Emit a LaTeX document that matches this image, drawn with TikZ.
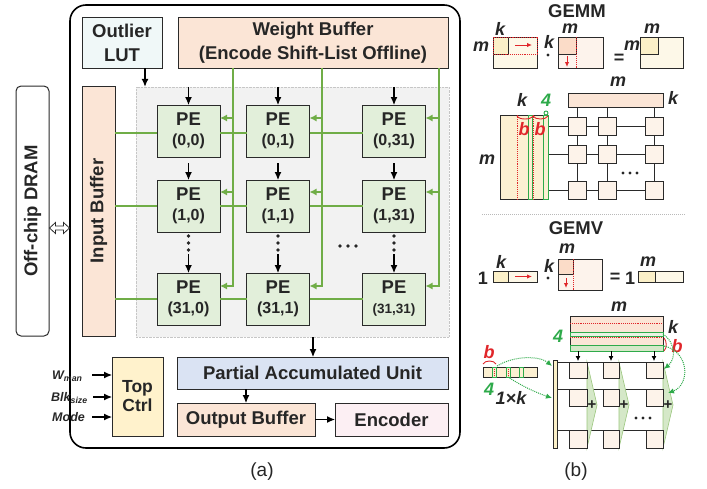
\documentclass[tikz,border=0pt]{standalone}
\usepackage{fontspec}
\setmainfont{Liberation Sans}
\usetikzlibrary{arrows.meta,calc}
\definecolor{txt}{HTML}{262626}
\definecolor{bd}{HTML}{2A2A2A}
\definecolor{peach}{HTML}{FBE5D6}
\definecolor{pegreen}{HTML}{E2EFDA}
\definecolor{gline}{HTML}{70AD47}
\definecolor{lut}{HTML}{F0F8F8}
\definecolor{pau}{HTML}{DAE3F3}
\definecolor{enc}{HTML}{FCEFF3}
\definecolor{ctrl}{HTML}{FFF2CC}
\definecolor{area}{HTML}{F2F2F2}
\definecolor{cream}{HTML}{FDF8E8}
\definecolor{yel}{HTML}{FBF0C8}
\definecolor{yel2}{HTML}{FCF0D2}
\definecolor{lpeach}{HTML}{FDF3EC}
\definecolor{dpeach}{HTML}{FBDCC8}
\definecolor{sqf}{HTML}{FDF3EA}
\definecolor{rd}{HTML}{E0262A}
\definecolor{brightg}{HTML}{2EAA4A}
\definecolor{lgreen}{HTML}{D5E8C8}
\newcommand{\myfs}[2]{\fontsize{#1}{#2}\selectfont}
\begin{document}
\begin{tikzpicture}[x=1pt,y=-1pt,
  box/.style={draw=bd, line width=1pt, inner sep=0pt, outer sep=0pt, text=txt, align=center, font=\bfseries\myfs{18.5}{24}},
  pe/.style={box, fill=pegreen, minimum width=63pt, minimum height=52pt, font=\bfseries\myfs{18.5}{20}},
  arr/.style={draw=black, line width=1.1pt, -{Latex[length=8pt,width=7pt]}},
  sarr/.style={draw=black, line width=0.8pt, -{Latex[length=5pt,width=5pt]}},
  garr/.style={draw=gline, line width=1.2pt, -{Latex[length=7pt,width=7pt]}},
  gln/.style={draw=gline, line width=1.2pt},
  lab/.style={text=txt, inner sep=0pt, font=\bfseries\itshape\myfs{18}{20}},
  inlab/.style={anchor=west, text=txt, inner sep=0pt, font=\bfseries\itshape\myfs{12.5}{14}},
  mat/.style={draw=bd, line width=0.9pt},
  reddot/.style={draw=rd, densely dotted, line width=0.9pt},
  redarr/.style={draw=rd, line width=1pt, -{Latex[length=5pt,width=4.5pt]}},
  gbox/.style={draw=brightg, line width=0.9pt},
  gdot/.style={draw=brightg, densely dotted, line width=1pt, -{Latex[length=6pt,width=5.5pt]}},
  pdot/.style={fill=txt, circle, inner sep=0pt, minimum size=3.6pt},
  sdot/.style={fill=txt, circle, inner sep=0pt, minimum size=3.2pt},
]
\useasboundingbox (0,0) rectangle (707,488);

% ===================== (a) =====================
\node[draw=black, line width=1.6pt, rounded corners=16pt, minimum width=390pt, minimum height=443pt, inner sep=0pt] (outer) at (265,226.5) {};
\node[box, fill=white, rounded corners=5pt, rotate=90, minimum width=250pt, minimum height=33pt, font=\bfseries\myfs{18.5}{20}] (dram) at (32.5,211) {Off-chip DRAM};
\coordinate (dd) at (49.5,228);
\draw[fill=white, draw=bd, line width=0.8pt] (dd) -- ++(6,-5.5) -- ++(0,3.5) -- ++(8,0) -- ++(0,-3.5) -- ++(6,5.5) -- ++(-6,5.5) -- ++(0,-3.5) -- ++(-8,0) -- ++(0,3.5) -- cycle;

\node[draw=gray!45, densely dotted, fill=area, minimum width=313pt, minimum height=250pt, inner sep=0pt] (area) at (292.5,212) {};

\node[box, fill=lut, minimum width=80pt, minimum height=51pt] (lut) at (122,42.5) {Outlier\\LUT};
\node[box, fill=peach, minimum width=270pt, minimum height=51pt] (wb) at (313,42.5) {Weight Buffer\\(Encode Shift-List Offline)};
\node[box, fill=peach, rotate=90, minimum width=250pt, minimum height=33pt, font=\bfseries\myfs{18.5}{20}] (ib) at (98.5,211) {Input Buffer};

% PEs
\node[pe] (pe00) at (188.5,131) {PE\\{\myfs{16}{18}(0,0)}};
\node[pe] (pe01) at (278,131) {PE\\{\myfs{16}{18}(0,1)}};
\node[pe] (pe02) at (394,131) {PE\\{\myfs{16}{18}(0,31)}};
\node[pe] (pe10) at (188.5,206) {PE\\{\myfs{16}{18}(1,0)}};
\node[pe] (pe11) at (278,206) {PE\\{\myfs{16}{18}(1,1)}};
\node[pe] (pe12) at (394,206) {PE\\{\myfs{16}{18}(1,31)}};
\node[pe] (pe20) at (188.5,299) {PE\\{\myfs{16}{18}(31,0)}};
\node[pe] (pe21) at (278,299) {PE\\{\myfs{16}{18}(31,1)}};
\node[pe] (pe22) at (394,299) {PE\\{\myfs{13.5}{16}(31,31)}};

% horizontal green lines from input buffer
\foreach \n/\yy in {0/133,1/206,2/299}{
  \coordinate (h\n) at (0,\yy);
  \draw[gln] (ib.south |- h\n) -- (pe\n0.west |- h\n);
  \draw[gln] (pe\n0.east |- h\n) -- (pe\n1.west |- h\n);
  \draw[gln] (pe\n1.east |- h\n) -- (pe\n2.west |- h\n);
}
% vertical green lines from weight buffer
\coordinate (r0) at (0,118);
\coordinate (r1) at (0,192);
\coordinate (r2) at (0,286);
\foreach \c/\gx in {0/233,1/322,2/439}{
  \coordinate (g\c) at (\gx,0);
  \draw[garr] (wb.south -| g\c) -- (g\c |- r2) -- (r2 -| pe2\c.east);
  \draw[garr] (g\c |- r0) -- (r0 -| pe0\c.east);
  \draw[garr] (g\c |- r1) -- (r1 -| pe1\c.east);
}
% black arrows in columns
\foreach \c in {0,1,2}{
  \draw[arr] (area.north -| pe0\c) -- (pe0\c.north);
  \draw[arr] ($(pe0\c.south)+(0,6)$) -- (pe1\c.north);
  \node[pdot] at ($(pe1\c.south)+(0,4)$) {};
  \node[pdot] at ($(pe1\c.south)+(0,11)$) {};
  \node[pdot] at ($(pe1\c.south)+(0,18)$) {};
  \draw[arr] ($(pe1\c.south)+(0,22)$) -- (pe2\c.north);
}
\node[pdot] at (340,246) {};
\node[pdot] at (348,246) {};
\node[pdot] at (356,246) {};

\coordinate (la) at (145,0);
\draw[arr] (lut.south -| la) -- (area.north -| la);

\node[box, fill=pau, minimum width=271pt, minimum height=32pt] (pau) at (312.5,373) {Partial Accumulated Unit};
\node[box, fill=peach, minimum width=138pt, minimum height=33pt] (ob) at (246,419.5) {Output Buffer};
\node[box, fill=enc, minimum width=113pt, minimum height=33pt] (enc) at (391.5,419.5) {Encoder};
\node[box, fill=ctrl, minimum width=51pt, minimum height=79pt, font=\bfseries\myfs{17.5}{19}] (tc) at (137.5,396.5) {Top\\Ctrl};
\coordinate (pa) at (313,0);
\draw[arr] (area.south -| pa) -- (pau.north -| pa);
\draw[arr] (pau.south -| ob) -- (ob.north);
\draw[arr] (ob.east) -- (enc.west);

\node[inlab] (wman) at (52,376) {W\textsubscript{man}};
\node[inlab] (blk) at (51,398) {Blk\textsubscript{size}};
\node[inlab] (mode) at (52,417) {Mode};
\coordinate (i0) at (92,375);
\coordinate (i1) at (93,397);
\coordinate (i2) at (92,417);
\draw[arr] (i0) -- (i0 -| tc.west);
\draw[arr] (i1) -- (i1 -| tc.west);
\draw[arr] (i2) -- (i2 -| tc.west);

\node[text=txt, font=\myfs{19}{22}] (capa) at (262,472) {(a)};

% ===================== (b) GEMM =====================
\node[text=txt, inner sep=0pt, font=\bfseries\myfs{18.5}{20}] (gemm) at (577,11) {GEMM};
% A
\draw[mat, fill=cream] (493,37) rectangle (537,68);
\draw[mat, fill=yel] (493,37) rectangle (508,54);
\draw[reddot] (493,37) rectangle (537,54);
\draw[redarr] (515,45) -- (532,45);
\node[lab] at (481,47) {m};
\node[lab] at (500,29) {k};
\node[lab] at (549,42) {k};
\fill[txt] (548,55) circle (1.6pt);
% B
\draw[mat, fill=lpeach] (558,37) rectangle (603,68);
\draw[mat, fill=dpeach] (558,37) rectangle (576,54);
\draw[reddot] (576,37) -- (576,68);
\draw[redarr] (567,56) -- (567,67);
\node[lab] at (570,29) {m};
% C
\node[text=txt, inner sep=0pt, font=\bfseries\myfs{18}{20}] at (619,59) {=};
\node[lab] at (632,46) {m};
\draw[mat, fill=cream] (640,37) rectangle (683,68);
\draw[mat, fill=yel] (640,37) rectangle (658,54);
\node[lab] at (652,29) {m};

% GEMM array
\node[lab] at (618,82) {m};
\node[lab] at (673,98) {k};
\foreach \x in {577,607,654} \draw[mat] (\x,107) -- (\x,190);
\foreach \y in {126,154,190} \draw[mat] (548,\y) -- (654,\y);
\draw[mat, fill=peach] (568,93) rectangle (663,107);
\draw[mat, fill=yel2] (500,115) rectangle (548,199);
\draw[reddot] (517,115) -- (517,199);
\draw[reddot] (533,115) -- (533,199);
\draw[gbox] (528,115) rectangle (532,199);
\draw[gbox] (543,115) rectangle (548,199);
\draw[rd, line width=0.9pt] (517,116) .. controls (519,120) and (531,120) .. (533,116);
\draw[rd, line width=0.9pt] (533,116) .. controls (535,120) and (546,120) .. (548,116);
\draw[gbox, fill=white] (546,113) circle (2pt);
\node[lab] at (522,100) {k};
\node[lab, text=brightg] at (546,100) {4};
\node[lab, text=rd] at (524,129) {b};
\node[lab, text=rd] at (540,129) {b};
\node[lab] at (487,160) {m};
\foreach \x in {577,607,654} \foreach \y in {126,154,190}
  \draw[mat, fill=sqf] (\x-9,\y-9) rectangle (\x+9,\y+9);
\node[sdot] at (623,173) {};
\node[sdot] at (630,173) {};
\node[sdot] at (637,173) {};

% separator
\draw[gray!55, densely dotted, line width=1pt] (482,214) -- (685,214);

% ===================== (b) GEMV =====================
\node[text=txt, font=\bfseries\myfs{18.5}{20}] (gemv) at (576,228) {GEMV};
\node[text=txt, inner sep=0pt, font=\bfseries\myfs{18}{20}] at (483,278) {1};
\draw[mat, fill=cream] (493,271) rectangle (537,282);
\draw[mat, fill=yel] (493,271) rectangle (508,282);
\draw[redarr] (515,276.5) -- (532,276.5);
\node[lab] at (501,262) {k};
\node[lab] at (549,266) {k};
\fill[txt] (548,278) circle (1.6pt);
\draw[mat, fill=lpeach] (558,259) rectangle (602,290);
\draw[mat, fill=dpeach] (558,259) rectangle (573,274);
\draw[reddot] (573,259) -- (573,290);
\draw[redarr] (566,278) -- (566,288);
\node[lab] at (567,249) {m};
\node[text=txt, inner sep=0pt, font=\bfseries\myfs{18}{20}] at (615,278) {=};
\node[text=txt, inner sep=0pt, font=\bfseries\myfs{18}{20}] at (630,278) {1};
\draw[mat, fill=cream] (638,271) rectangle (683,282);
\draw[mat, fill=yel] (638,271) rectangle (655,282);
\node[lab] at (648,262) {m};

% GEMV array
\node[lab] at (619,307) {m};
\draw[mat, fill=peach] (570,316) rectangle (663,351);
\draw[reddot] (570,323) -- (663,323);
\draw[reddot] (570,337) -- (663,337);
\draw[gbox, fill=lgreen!50] (570,332) rectangle (663,336);
\draw[gbox, fill=lgreen] (570,345) rectangle (663,351);
\node[lab, text=brightg] at (558,336) {4};
\node[lab] at (673,327) {k};
\node[lab, text=rd] at (677,346) {b};
\draw[rd, line width=0.9pt] (664,338) .. controls (667,341) and (667,348) .. (664,351);
\foreach \x in {578,611,654} \draw[sarr] (\x,351) -- (\x,361);
\foreach \y in {362,389,430} \draw[mat] (557,\y) -- (663,\y);
\foreach \xr in {587,619,663}{
  \draw[draw=gline!70, fill=lgreen, line width=0.6pt] (\xr,362) -- (\xr+10,405) -- (\xr,448) -- cycle;
}
\foreach \xa/\xb in {569/587,603/619,646/663} \foreach \ya/\yb in {362/378,389/406,430/448}
  \draw[mat, fill=sqf] (\xa,\ya) rectangle (\xb,\yb);
\foreach \xr in {587,619,663}
  \node[text=txt, inner sep=0pt, font=\bfseries\myfs{15}{16}] at (\xr+5,405) {+};
\draw[mat, fill=yel] (553,360) rectangle (557,448);
\node[sdot] at (636,418) {};
\node[sdot] at (643,418) {};
\node[sdot] at (650,418) {};

% input vector
\draw[mat, fill=yel2] (483,367) rectangle (537,377);
\draw[reddot] (494,367) -- (494,377);
\draw[reddot] (508,367) -- (508,377);
\draw[gbox] (492,367) rectangle (496,377);
\draw[gbox] (506,367) rectangle (510,377);
\draw[gbox] (519,367) rectangle (523,377);
\draw[rd, line width=0.9pt] (483,364) .. controls (485,360) and (494,360) .. (496,364);
\node[lab, text=rd] at (489,352) {b};
\node[lab, text=brightg] at (489,389) {4};
\node[lab] at (511,398) {1\texttimes k};

\draw[gdot] (497,366) .. controls (515,355) and (540,356) .. (552,366);
\draw[gdot] (508,377) .. controls (525,388) and (540,394) .. (552,398);
\draw[gdot] (663,334) .. controls (677,344) and (675,360) .. (664,369);
\draw[gdot] (664,346) .. controls (690,352) and (690,385) .. (668,393);

\node[text=txt, font=\myfs{19}{22}] (capb) at (576,472) {(b)};
\end{tikzpicture}
\end{document}
